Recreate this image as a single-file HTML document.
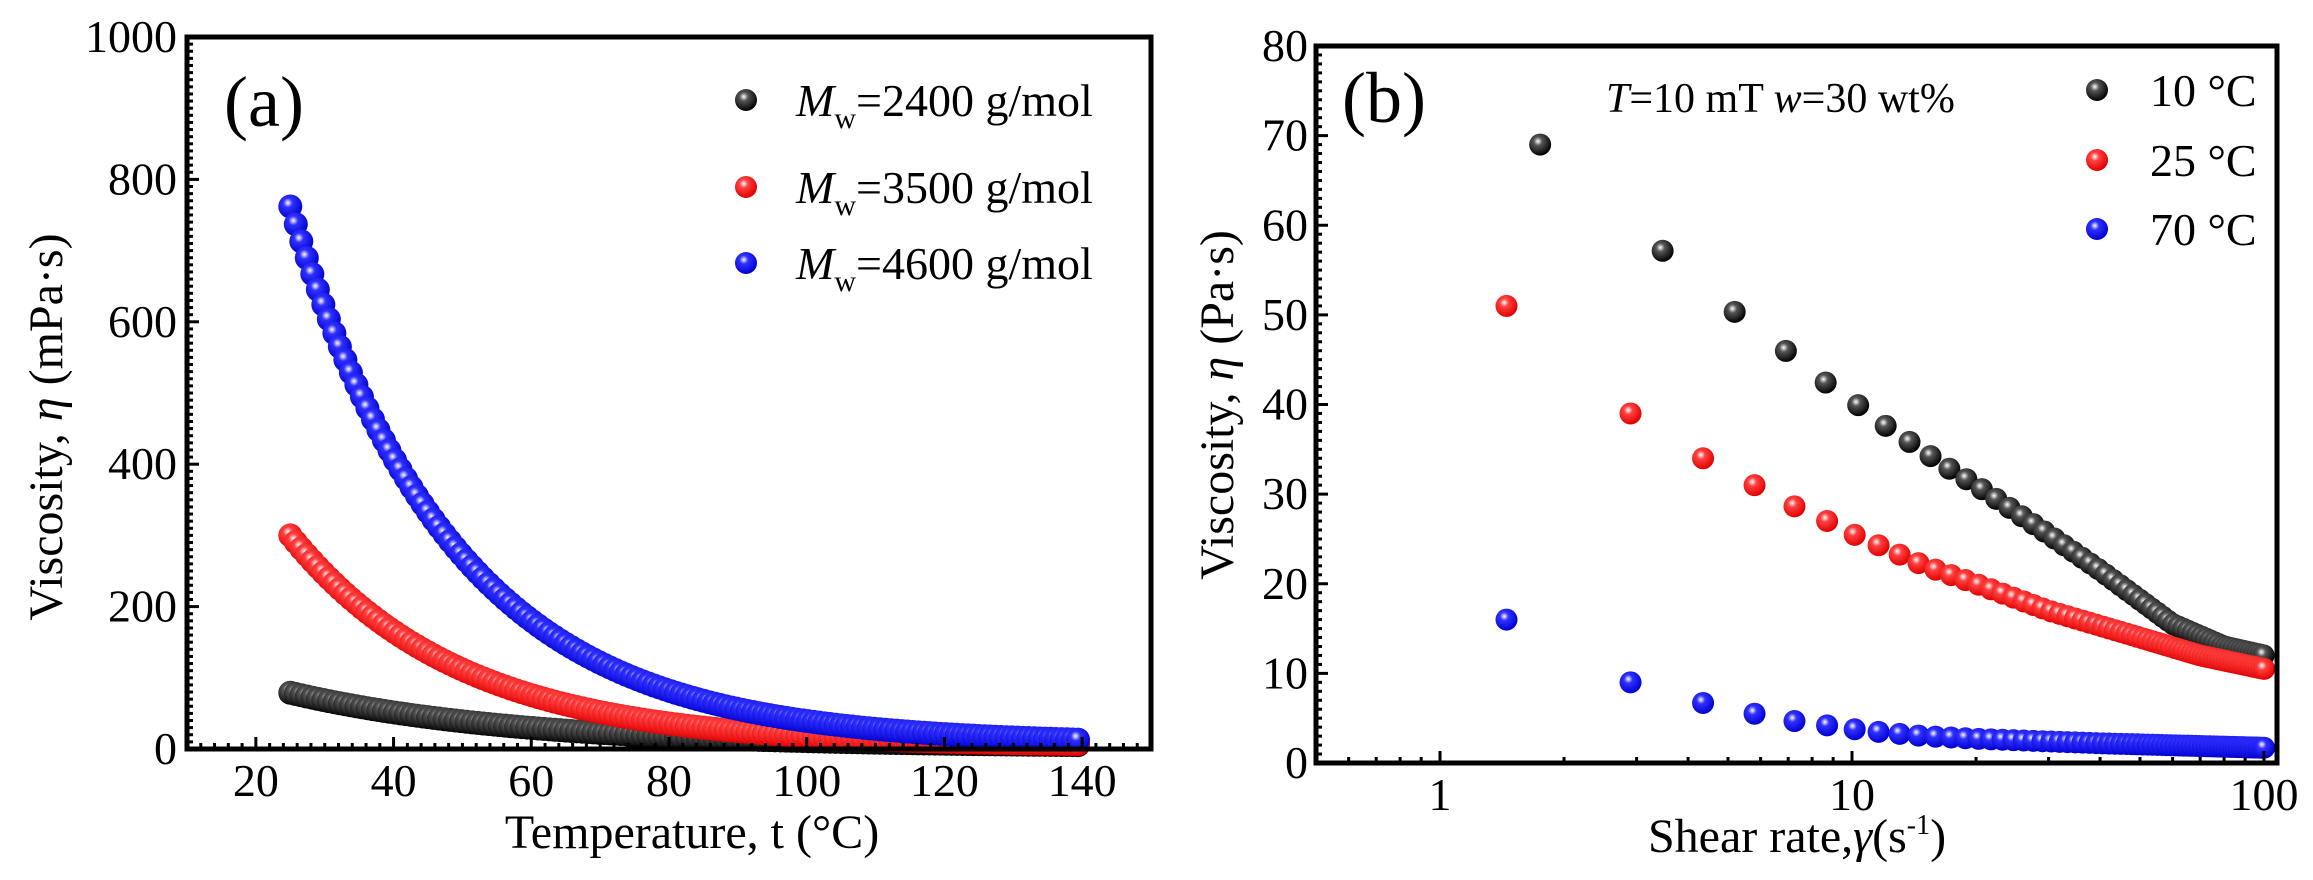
<!DOCTYPE html>
<html><head><meta charset="utf-8"><style>
html,body{margin:0;padding:0;background:#fff;}
svg{display:block;font-family:"Liberation Serif",serif;}
</style></head><body>
<svg id="s" width="2313" height="880" xmlns="http://www.w3.org/2000/svg">
<defs>
<radialGradient id="gk" cx="0.4" cy="0.35" r="0.65"><stop offset="0" stop-color="#fff"/><stop offset="0.3" stop-color="#555"/><stop offset="1" stop-color="#000"/></radialGradient>
<radialGradient id="gr" cx="0.4" cy="0.35" r="0.65"><stop offset="0" stop-color="#fff"/><stop offset="0.3" stop-color="#ff4040"/><stop offset="1" stop-color="#e00000"/></radialGradient>
<radialGradient id="gb" cx="0.4" cy="0.35" r="0.65"><stop offset="0" stop-color="#fff"/><stop offset="0.3" stop-color="#3030ff"/><stop offset="1" stop-color="#0000d0"/></radialGradient>
</defs>
<g id="g"></g>
</svg>
<script>
const NS="http://www.w3.org/2000/svg",G=document.getElementById('g');
function el(t,a,txt){const e=document.createElementNS(NS,t);for(const k in a)e.setAttribute(k,a[k]);if(txt!=null)e.textContent=txt;G.appendChild(e);return e;}
function line(x1,y1,x2,y2,w){el('line',{x1,y1,x2,y2,stroke:'#000','stroke-width':w||2});}
function txt(x,y,s,size,anchor,extra){const a={x,y,'font-size':size,'text-anchor':anchor||'middle',fill:'#000'};Object.assign(a,extra||{});return el('text',a,s);}
// Panel A
const aL=187,aR=1151,aT=37,aB=749;
const ax=t=>aL+(t-10)*(aR-aL)/140, ay=v=>aB-v*(aB-aT)/1000;
const cols=['url(#gk)','url(#gr)','url(#gb)'];
const fa=[t=>76*Math.exp(-0.03*(t-25))+3,t=>296*Math.exp(-0.0405*(t-25))+4,t=>755*Math.exp(-0.042*(t-25))+7];
for(let s=0;s<3;s++){for(let t=25;t<=140.01;t+=0.8){el('circle',{cx:ax(t),cy:ay(fa[s](t)),r:12,fill:cols[s]});}}
el('rect',{x:aL,y:aT,width:aR-aL,height:aB-aT,fill:'none',stroke:'#000','stroke-width':5});
for(let v=0;v<=1000;v+=10){const w=v%200==0?12:6;line(aL,ay(v),aL+w,ay(v),3);}
for(let t=10;t<=150;t+=2){const w=t%20==0?12:6;line(ax(t),aB,ax(t),aB-w,3);}
for(let v=0;v<=1000;v+=200)txt(aL-10,ay(v)+15,String(v),46,'end');
for(let t=20;t<=140;t+=20)txt(ax(t),796,String(t),46);
txt(692,848,'Temperature, t (°C)',48);
el('text',{x:0,y:0,'font-size':48,'text-anchor':'middle',transform:'translate(62,427) rotate(-90)'}).innerHTML='Viscosity, <tspan font-style="italic">η</tspan> (mPa·s)';
txt(264,126,'(a)',72);
const la=['2400','3500','4600'];
for(let i=0;i<3;i++){const y=[100,187,263][i];el('circle',{cx:746,cy:y,r:11,fill:cols[i]});
el('text',{x:796,y:y+16,'font-size':46}).innerHTML='<tspan font-style="italic">M</tspan><tspan font-size="30" dy="12">w</tspan><tspan dy="-12">=</tspan>'+la[i]+' g/mol';}
// Panel B
const bL=1316,bR=2277,bT=46,bB=763,lmin=Math.log10(0.5),lmax=2+13/412;
const bx=x=>bL+(Math.log10(x)-lmin)*(bR-bL)/(lmax-lmin), by=v=>bB-v*(bB-bT)/80;
function interp(P,x){const lx=Math.log10(x);for(let i=0;i<P.length-1;i++){const a=Math.log10(P[i][0]),b=Math.log10(P[i+1][0]);if(lx<=b){return P[i][1]+(P[i+1][1]-P[i][1])*(lx-a)/(b-a);}}return P[P.length-1][1];}
const PB=[
[[1.75,69],[3.5,57],[5.2,50.3],[6.9,46],[8.6,42.5],[10.3,40],[12,37.7],[17,33],[20,31],[30,25.5],[40,21.5],[60,15.5],[80,13],[100,12]],
[[1.45,51],[2.9,39],[4.35,34],[5.8,31],[7.2,28.7],[8.7,27],[10.1,25.5],[12,24],[15,22],[20,20],[30,17],[50,14],[70,12],[100,10.5]],
[[1.45,16],[2.9,9],[4.35,6.7],[5.8,5.5],[7.2,4.7],[8.7,4.2],[10,3.8],[12,3.4],[15,3],[20,2.7],[40,2.2],[100,1.7]]];
const st=[1.72,1.45,1.45],s0=[1.75,1.45,1.45];
for(let s=0;s<3;s++){for(let n=0;;n++){const x=s0[s]+n*st[s];if(x>100.5)break;el('circle',{cx:bx(x),cy:by(interp(PB[s],x)),r:11,fill:cols[s]});}}
el('rect',{x:bL,y:bT,width:bR-bL,height:bB-bT,fill:'none',stroke:'#000','stroke-width':5});
for(let v=0;v<=80;v+=1){const w=v%10==0?12:6;line(bL,by(v),bL+w,by(v),3);}
for(let d of [0.1,1,10])for(let k=1;k<10;k++){const x=d*k;if(x<0.5)continue;const w=k==1?12:6;line(bx(x),bB,bx(x),bB-w,3);}
line(bx(100),bB,bx(100),bB-12,3);
for(let v=0;v<=80;v+=10)txt(bL-8,by(v)+15,String(v),46,'end');
[[1,'1'],[10,'10'],[100,'100']].forEach(([x,s])=>txt(bx(x),810,s,46));
el('text',{x:1797,y:852,'font-size':48,'text-anchor':'middle'}).innerHTML='Shear rate,<tspan font-style="italic">γ</tspan>(s<tspan font-size="28" dy="-18">-1</tspan><tspan dy="18">)</tspan>';
el('text',{x:0,y:0,'font-size':48,'text-anchor':'middle',transform:'translate(1233,405) rotate(-90)'}).innerHTML='Viscosity, <tspan font-style="italic">η</tspan> (Pa·s)';
txt(1384,122,'(b)',72);
el('text',{x:1606,y:112,'font-size':42}).innerHTML='<tspan font-style="italic">T</tspan>=10 mT <tspan font-style="italic">w</tspan>=30 wt%';
const lb=['10 °C','25 °C','70 °C'];
for(let i=0;i<3;i++){const y=[90,160,229][i];el('circle',{cx:2097,cy:y,r:11,fill:cols[i]});txt(2150,y+16,lb[i],46,'start');}
</script>
</body></html>
